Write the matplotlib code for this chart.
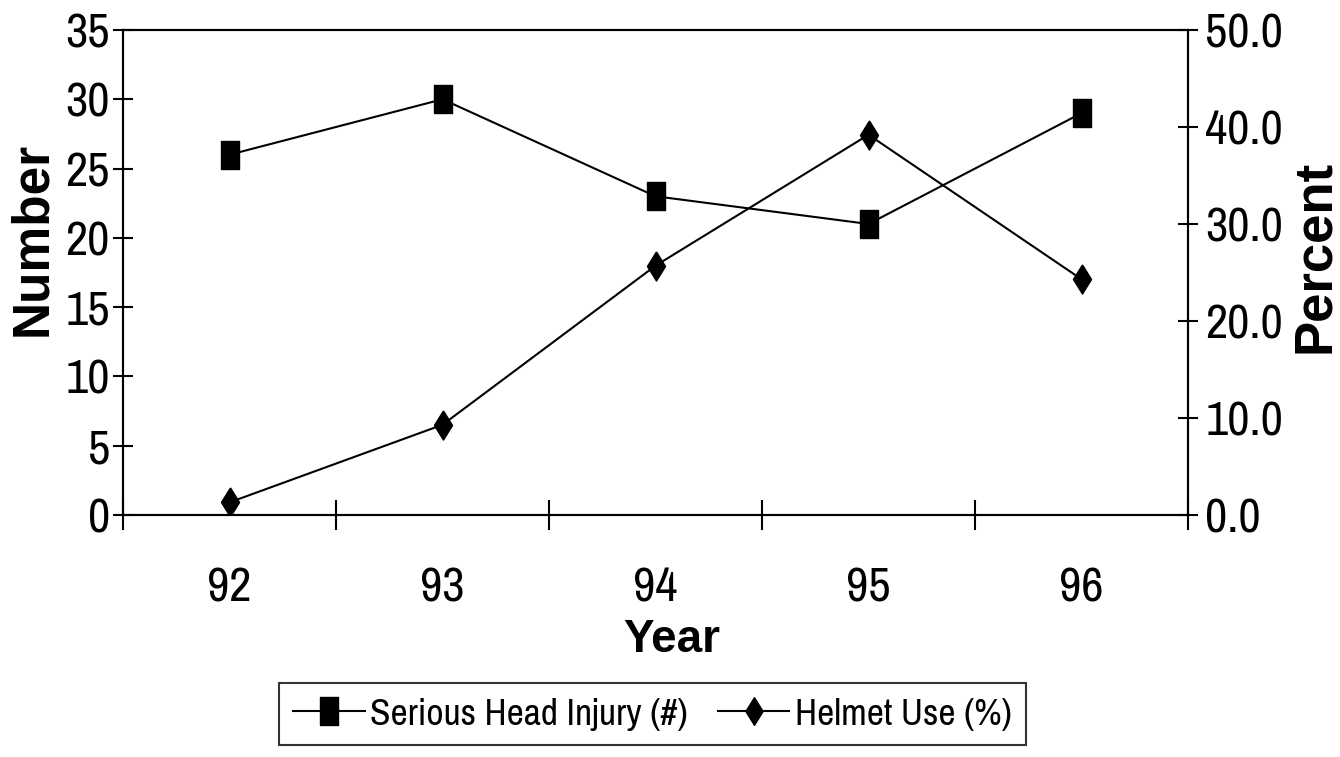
import matplotlib
matplotlib.use("Agg")
import matplotlib.pyplot as plt

years = ["92", "93", "94", "95", "96"]
head_injury = [26, 30, 23, 21, 29]
helmet_use = [1.3, 9.3, 25.7, 39.2, 24.3]

# narrow grotesque for numbers and legend, plain bold sans for axis titles
plt.rcParams["font.family"] = ["Archivo Narrow", "Roboto Condensed", "DejaVu Sans"]
title_font = dict(family=["Liberation Sans", "DejaVu Sans"], fontweight="bold")

# tall, narrow marker shapes
square = [(-0.62, -1), (0.62, -1), (0.62, 1), (-0.62, 1), (-0.62, -1)]
diamond = [(0, 1), (0.62, 0), (0, -1), (-0.62, 0), (0, 1)]

fig = plt.figure(figsize=(13.4, 7.57), dpi=100)
ax = fig.add_axes([0.0918, 0.3197, 0.7948, 0.6407])
ax2 = ax.twinx()

x = list(range(len(years)))
l1, = ax.plot(x, head_injury, color="black", lw=1.5, marker=square, markersize=20,
              label="Serious Head Injury (#)")
l2, = ax2.plot(x, helmet_use, color="black", lw=1.5, marker=diamond, markersize=21,
               label="Helmet Use (%)")

ax.set_xlim(-0.5, 4.5)
ax.set_ylim(0, 35)
ax.set_yticks(range(0, 36, 5))
ax2.set_ylim(0, 50)
ax2.set_yticks(range(0, 51, 10))
ax2.set_yticklabels(["%.1f" % v for v in range(0, 51, 10)])

ax.set_xticks(x)
ax.set_xticklabels(years)
ax.set_xticks([i - 0.5 for i in range(len(years) + 1)], minor=True)
ax.tick_params(axis="x", which="major", length=0, labelsize=35, pad=37)
ax.tick_params(axis="x", which="minor", direction="inout", length=21, width=1.5)
ax.tick_params(axis="y", direction="inout", length=15, width=1.5, labelsize=35, pad=2)
ax2.tick_params(axis="y", direction="inout", length=15, width=1.5, labelsize=35, pad=5)

for a in (ax, ax2):
    for s in a.spines.values():
        s.set_linewidth(1.5)

ax.set_xlabel("Year", fontsize=33, **title_font)
ax.xaxis.set_label_coords(0.515, -0.213)
ax.set_ylabel("Number", fontsize=37, **title_font)
ax.yaxis.set_label_coords(-0.062, 0.569)
ax2.set_ylabel("Percent", fontsize=38, **title_font)
ax2.yaxis.set_label_coords(1.096, 0.534)

leg = fig.legend(handles=[l1, l2], loc="center", bbox_to_anchor=(0.487, 0.0568),
                 ncol=2, fontsize=27, frameon=True, fancybox=False, handlelength=1.9,
                 handletextpad=0.15, columnspacing=0.8, borderpad=0.38)
leg.get_frame().set_edgecolor("black")
leg.get_frame().set_linewidth(1.5)
for h in leg.legend_handles:
    h.set_markersize(20)

fig.savefig("out.png", dpi=100)
